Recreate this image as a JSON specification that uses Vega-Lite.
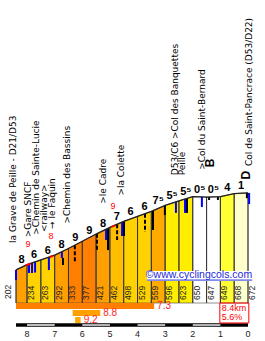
{
"$schema": "https://vega.github.io/schema/vega-lite/v6.json",
"padding": 0,
"spacing": 0,
"bounds": "flush",
"config": {"view": {"stroke": null}, "font": "Liberation Sans"},
"datasets": {
"profile": [{"km":8.4,"alt":202},{"km":8.0,"alt":234},{"km":7.5,"alt":263},{"km":7.0,"alt":292},{"km":6.5,"alt":333},{"km":6.0,"alt":377},{"km":5.5,"alt":421},{"km":5.0,"alt":462},{"km":4.5,"alt":498},{"km":4.0,"alt":529},{"km":3.5,"alt":559},{"km":3.0,"alt":596},{"km":2.5,"alt":623},{"km":2.0,"alt":650},{"km":1.5,"alt":647},{"km":1.0,"alt":649},{"km":0.5,"alt":668},{"km":0.0,"alt":672}],
"seg": [
{"s":1,"km":8.4,"alt":202,"g":"8"},{"s":1,"km":8.0,"alt":234,"g":"8"},
{"s":2,"km":8.0,"alt":234,"g":"6"},{"s":2,"km":7.5,"alt":263,"g":"6"},
{"s":3,"km":7.5,"alt":263,"g":"6"},{"s":3,"km":7.0,"alt":292,"g":"6"},
{"s":4,"km":7.0,"alt":292,"g":"8"},{"s":4,"km":6.5,"alt":333,"g":"8"},
{"s":5,"km":6.5,"alt":333,"g":"9"},{"s":5,"km":6.0,"alt":377,"g":"9"},
{"s":6,"km":6.0,"alt":377,"g":"9"},{"s":6,"km":5.5,"alt":421,"g":"9"},
{"s":7,"km":5.5,"alt":421,"g":"8"},{"s":7,"km":5.0,"alt":462,"g":"8"},
{"s":8,"km":5.0,"alt":462,"g":"7"},{"s":8,"km":4.5,"alt":498,"g":"7"},
{"s":9,"km":4.5,"alt":498,"g":"6"},{"s":9,"km":4.0,"alt":529,"g":"6"},
{"s":10,"km":4.0,"alt":529,"g":"6"},{"s":10,"km":3.5,"alt":559,"g":"6"},
{"s":11,"km":3.5,"alt":559,"g":"7.5"},{"s":11,"km":3.0,"alt":596,"g":"7.5"},
{"s":12,"km":3.0,"alt":596,"g":"5.5"},{"s":12,"km":2.5,"alt":623,"g":"5.5"},
{"s":13,"km":2.5,"alt":623,"g":"5.5"},{"s":13,"km":2.0,"alt":650,"g":"5.5"},
{"s":14,"km":2.0,"alt":650,"g":"0.5"},{"s":14,"km":1.5,"alt":647,"g":"0.5"},
{"s":15,"km":1.5,"alt":647,"g":"0.5"},{"s":15,"km":1.0,"alt":649,"g":"0.5"},
{"s":16,"km":1.0,"alt":649,"g":"4"},{"s":16,"km":0.5,"alt":668,"g":"4"},
{"s":17,"km":0.5,"alt":668,"g":"1"},{"s":17,"km":0.0,"alt":672,"g":"1"}],
"gl": [{"km":8.2,"alt":218,"t":"8"},{"km":7.75,"alt":248.5,"t":"6"},{"km":7.25,"alt":277.5,"t":"6"},{"km":6.75,"alt":312.5,"t":"8"},{"km":6.25,"alt":355,"t":"9"},{"km":5.75,"alt":399,"t":"9"},{"km":5.25,"alt":441.5,"t":"8"},{"km":4.75,"alt":480,"t":"7"},{"km":4.25,"alt":513.5,"t":"6"},{"km":3.75,"alt":544,"t":"6"},{"km":3.25,"alt":577.5,"t":"7⁵"},{"km":2.75,"alt":609.5,"t":"5⁵"},{"km":2.25,"alt":636.5,"t":"5⁵"},{"km":1.75,"alt":648.5,"t":"0⁵"},{"km":1.25,"alt":648,"t":"0⁵"},{"km":0.75,"alt":658.5,"t":"4"},{"km":0.25,"alt":670,"t":"1"}],
"poi": [
{"km":8.51,"alt":202,"t":"la Grave de Peille - D21/D53"},
{"km":7.97,"alt":236,"t":">Gare SNCF"},
{"km":7.66,"alt":252,"t":">Chemin de Sainte-Lucie"},
{"km":7.39,"alt":269,"t":"<railway>"},
{"km":7.08,"alt":287,"t":"→ le Faquin"},
{"km":6.57,"alt":320,"t":">Chemin des Bassins"},
{"km":5.25,"alt":441,"t":">le Cadre"},
{"km":4.6,"alt":491,"t":">la Colette"},
{"km":2.64,"alt":615,"t":["D53/C6 >Col des Banquettes","\u00a0\u00a0\u00a0\u00a0\u00a0Peille"]},
{"km":1.67,"alt":648,"t":">Col du Saint-Bernard"},
{"km":-0.03,"alt":672,"t":"Col de Saint-Pancrace (D53/D22)"}],
"icons": [{"km":1.38,"alt":855,"t":"B"},{"km":0.07,"alt":781,"t":"D"}],
"mk": [
{"km":8.4,"a1":202,"a2":140,"k":"p"},{"km":7.93,"a1":238,"a2":183,"k":"p"},{"km":7.82,"a1":244,"a2":183,"k":"p"},{"km":7.71,"a1":251,"a2":186,"k":"p"},{"km":7.21,"a1":280,"a2":201,"k":"p"},{"km":6.74,"a1":313,"a2":275,"k":"p"},{"km":6.7,"a1":275,"a2":232,"k":"j"},{"km":6.27,"a1":353,"a2":250,"k":"d"},{"km":5.47,"a1":423,"a2":323,"k":"d"},{"km":5.14,"a1":450,"a2":385,"k":"p"},{"km":5.07,"a1":456,"a2":323,"k":"j"},{"km":4.74,"a1":481,"a2":385,"k":"d"},{"km":4.56,"a1":494,"a2":409,"k":"p"},{"km":4.49,"a1":498,"a2":409,"k":"j"},{"km":3.73,"a1":545,"a2":433,"k":"d"},{"km":3.44,"a1":563,"a2":446,"k":"j"},{"km":3.01,"a1":595,"a2":537,"k":"j"},{"km":2.61,"a1":617,"a2":550,"k":"p"},{"km":2.28,"a1":635,"a2":550,"k":"p"},{"km":2.21,"a1":639,"a2":550,"k":"j"},{"km":1.67,"a1":648,"a2":586,"k":"p"},{"km":1.41,"a1":647,"a2":629,"k":"j"},{"km":1.09,"a1":649,"a2":629,"k":"j"},{"km":0.04,"a1":672,"a2":640,"k":"j"},{"km":-0.04,"a1":672,"a2":604,"k":"p"}],
"red": [{"id":"a","km":8.05,"alt":230},{"id":"a","km":7.88,"alt":240},{"id":"b","km":7.18,"alt":281},{"id":"b","km":7.06,"alt":288},{"id":"c","km":4.95,"alt":465},{"id":"c","km":4.82,"alt":474}],
"rl": [{"km":7.97,"alt":236,"t":"9"},{"km":7.13,"alt":284,"t":"8"},{"km":4.89,"alt":470,"t":"9"}],
"wm": [{"k0":3.66,"k1":-0.15,"a0":134,"a1":195,"line":140,"mid":171,"t":"©www.cyclingcols.com"}],
"best": [{"row":"r1","k0":8.4,"k1":3.4,"v":"7.3"},{"row":"r2","k0":6.35,"k1":5.35,"v":"8.8"},{"row":"r3","k0":6.26,"k1":6.06,"v":"9.2"}],
"sc": [{"k0":8.4,"k1":0,"p":"bar"},{"k0":8,"k1":7,"p":"gap"},{"k0":6,"k1":5,"p":"gap"},{"k0":4,"k1":3,"p":"gap"},{"k0":2,"k1":1,"p":"gap"}],
"kms": [{"k":0},{"k":1},{"k":2},{"k":3},{"k":4},{"k":5},{"k":6},{"k":7},{"k":8}],
"box": [{"k0":1.02,"k1":-0.03,"ra":"r1","rb":"r3","t":["8.4km","5.6%"]}]
},
"vconcat": [
{
"width": 265, "height": 303,
"encoding": {
  "x": {"field":"km","type":"quantitative","scale":{"domain":[-0.615,8.98],"reverse":true,"nice":false,"zero":false},"axis":null},
  "y": {"field":"alt","type":"quantitative","scale":{"domain":[0,1850],"nice":false,"zero":false},"axis":null}
},
"layer": [
{"data":{"name":"seg"},"mark":{"type":"area","stroke":"#444","strokeWidth":0.6},
 "encoding":{"y":{"field":"alt","type":"quantitative","stack":null},"detail":{"field":"s"},
 "color":{"field":"g","type":"nominal","legend":null,"scale":{"domain":["9","8","7.5","7","6","5.5","4","1","0.5"],"range":["#FF8000","#FF9F00","#FFAA00","#FFBF00","#FFD200","#FFEE00","#FFFF33","#FFFFCC","#FFFFFF"]}}}},
{"data":{"name":"profile"},"mark":{"type":"rule","color":"#333","strokeWidth":1},"encoding":{"y2":{"datum":0}}},
{"data":{"name":"mk"},"transform":[{"filter":"datum.k == 'p'"}],"mark":{"type":"rule","strokeWidth":2,"color":"#0000FF"},
 "encoding":{"y":{"field":"a1","type":"quantitative"},"y2":{"field":"a2"}}},
{"data":{"name":"mk"},"transform":[{"filter":"datum.k == 'j'"}],"mark":{"type":"rule","strokeWidth":2,"color":"#000000"},
 "encoding":{"y":{"field":"a1","type":"quantitative"},"y2":{"field":"a2"}}},
{"data":{"name":"mk"},"transform":[{"filter":"datum.k == 'd'"}],"mark":{"type":"rule","strokeWidth":2,"color":"#000000","strokeDash":[4,2]},
 "encoding":{"y":{"field":"a1","type":"quantitative"},"y2":{"field":"a2"}}},
{"data":{"name":"wm"},"mark":{"type":"rect","color":"#FFFFFF"},
 "encoding":{"x":{"field":"k0","type":"quantitative"},"x2":{"field":"k1"},"y":{"field":"a0","type":"quantitative"},"y2":{"field":"a1"}}},
{"data":{"name":"wm"},"mark":{"type":"rule","color":"#2233DD","strokeWidth":1},
 "encoding":{"x":{"field":"k0","type":"quantitative"},"x2":{"field":"k1"},"y":{"field":"line","type":"quantitative"}}},
{"data":{"name":"wm"},"mark":{"type":"text","color":"#1E2ADB","fontSize":10.5,"align":"right","baseline":"middle"},
 "encoding":{"x":{"field":"k1","type":"quantitative"},"y":{"field":"mid","type":"quantitative"},"text":{"field":"t"}}},
{"data":{"name":"profile"},"mark":{"type":"line","color":"#222","strokeWidth":1.3}},
{"data":{"name":"red"},"mark":{"type":"line","color":"#FF0000","strokeWidth":2},"encoding":{"detail":{"field":"id"}}},
{"data":{"name":"profile"},"transform":[{"filter":"datum.km < 8.4"}],
 "mark":{"type":"text","angle":270,"align":"left","baseline":"middle","dx":3,"dy":4,"fontSize":8.5,"color":"#222"},
 "encoding":{"y":{"datum":0},"text":{"field":"alt"}}},
{"data":{"name":"profile"},"transform":[{"filter":"datum.km >= 8.4"}],
 "mark":{"type":"text","angle":270,"align":"left","baseline":"middle","dx":4,"dy":-8,"fontSize":8.5,"color":"#222"},
 "encoding":{"y":{"datum":0},"text":{"field":"alt"}}},
{"data":{"name":"gl"},"mark":{"type":"text","fontWeight":"bold","fontSize":11,"baseline":"alphabetic","dy":-4,"color":"#000"},
 "encoding":{"text":{"field":"t"}}},
{"data":{"name":"rl"},"mark":{"type":"text","fontSize":9,"baseline":"middle","dy":-20,"color":"#FF0000"},
 "encoding":{"text":{"field":"t"}}},
{"data":{"name":"poi"},"mark":{"type":"text","angle":270,"align":"left","baseline":"middle","dx":27,"font":"DejaVu Sans","fontSize":9,"lineHeight":7,"color":"#000"},
 "encoding":{"text":{"field":"t"}}},
{"data":{"name":"icons"},"mark":{"type":"text","angle":270,"align":"center","baseline":"middle","fontSize":12,"fontWeight":"bold","color":"#000"},
 "encoding":{"text":{"field":"t"}}}
]
},
{
"width": 265, "height": 34,
"encoding": {
  "x": {"field":"k0","type":"quantitative","scale":{"domain":[-0.615,8.98],"reverse":true,"nice":false,"zero":false},"axis":null},
  "y": {"field":"row","type":"nominal","scale":{"domain":["r1","r2","r3","sc","km"],"paddingInner":0.15,"paddingOuter":0},"axis":null}
},
"layer": [
{"data":{"name":"best"},"mark":{"type":"bar"},
 "encoding":{"x2":{"field":"k1"},"color":{"field":"v","type":"nominal","legend":null,"scale":{"domain":["7.3","8.8","9.2"],"range":["#FFB400","#FF9900","#FF7700"]}}}},
{"data":{"name":"best"},"mark":{"type":"text","align":"left","baseline":"middle","dx":3,"fontSize":10,"color":"#FF2828"},
 "encoding":{"x":{"field":"k1","type":"quantitative"},"text":{"field":"v"}}},
{"data":{"name":"sc"},"transform":[{"filter":"datum.p == 'bar'"}],"mark":{"type":"bar","color":"#000","height":3.4,"yOffset":-2},
 "encoding":{"x2":{"field":"k1"},"y":{"datum":"sc"}}},
{"data":{"name":"sc"},"transform":[{"filter":"datum.p == 'gap'"}],"mark":{"type":"bar","color":"#FFF","height":1.4,"yOffset":-2},
 "encoding":{"x2":{"field":"k1"},"y":{"datum":"sc"}}},
{"data":{"name":"kms"},"mark":{"type":"text","fontSize":9,"baseline":"middle","color":"#222"},
 "encoding":{"x":{"field":"k","type":"quantitative"},"y":{"datum":"km"},"text":{"field":"k"}}},
{"data":{"name":"box"},"mark":{"type":"rect","fill":null,"stroke":"#FF0000","strokeWidth":1},
 "encoding":{"y":{"field":"ra","type":"nominal","bandPosition":0},"y2":{"field":"rb","bandPosition":1},"x2":{"field":"k1"}}},
{"data":{"name":"box"},"mark":{"type":"text","align":"left","baseline":"top","dx":2,"dy":1,"fontSize":9,"lineHeight":9,"color":"#FF0000"},
 "encoding":{"y":{"field":"ra","type":"nominal","bandPosition":0},"text":{"field":"t"}}}
]
}
]
}
